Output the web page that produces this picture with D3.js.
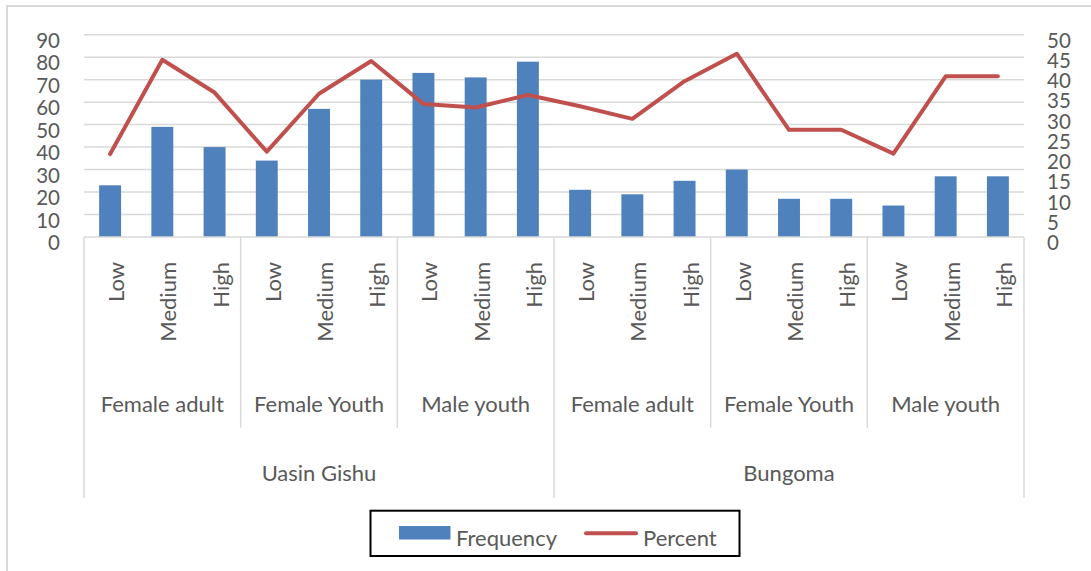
<!DOCTYPE html>
<html>
<head>
<meta charset="utf-8">
<script src="https://cdn.jsdelivr.net/npm/d3@7"></script>
<style>
  body { margin: 0; background: #fff; }
  text { font-family: Lato, "Open Sans", sans-serif; fill: #595959; }
</style>
</head>
<body>
<svg class="chart" width="1091" height="571"></svg>
<script>
var regions = ["Uasin Gishu", "Bungoma"];
var groups = ["Female adult", "Female Youth", "Male youth"];
var levels = ["Low", "Medium", "High"];

// frequency bars, left axis
var frequency = [23, 49, 40, 34, 57, 70, 73, 71, 78,
                 21, 19, 25, 30, 17, 17, 14, 27, 27];
// percent line, right axis
var percent = [20.5, 43.8, 35.7, 21.1, 35.4, 43.5, 32.9, 32.0, 35.1,
               32.3, 29.2, 38.5, 45.3, 26.5, 26.5, 20.6, 39.7, 39.7];

var leftTicks = [0, 10, 20, 30, 40, 50, 60, 70, 80, 90];
var rightTicks = [0, 5, 10, 15, 20, 25, 30, 35, 40, 45, 50];

var plot = { left: 84, right: 1024, top: 34.7, bottom: 237 };
var colors = { bar: "#4f81bd", line: "#c0504d", grid: "#d9d9d9" };

var svg = d3.select("svg.chart");

// every level of every group of every region
var cats = [];
regions.forEach(function (r) {
    groups.forEach(function (g) {
        levels.forEach(function (l) {
            cats.push({ region: r, group: g, level: l });
        });
    });
});

var x = d3.scaleBand()
          .domain(d3.range(cats.length))
          .range([plot.left, plot.right])
          .paddingInner(0.58)
          .paddingOuter(0.29);

var yL = d3.scaleLinear().domain([0, 90]).range([plot.bottom, plot.top]);
var yR = d3.scaleLinear().domain([0, 50]).range([plot.bottom, plot.top]);

function cx(i) {
    return x(i) + x.bandwidth() / 2;
}

function bandEdge(i) {
    return x(i) - x.step() * x.paddingInner() / 2;
}

// outer frame (only top and left show)
svg.append("path")
   .attr("d", "M7,1200 L7,6 L1200,6")
   .attr("fill", "none")
   .attr("stroke", colors.grid)
   .attr("stroke-width", 2);

// gridlines
svg.selectAll("line.grid")
   .data(leftTicks.slice(1))
   .enter()
   .append("line")
   .attr("class", "grid")
   .attr("x1", plot.left)
   .attr("x2", plot.right)
   .attr("y1", function (d) { return yL(d); })
   .attr("y2", function (d) { return yL(d); })
   .attr("stroke", colors.grid)
   .attr("stroke-width", 1.5);

// tick labels
svg.selectAll("text.yl")
   .data(leftTicks)
   .enter()
   .append("text")
   .attr("class", "yl")
   .attr("x", 60)
   .attr("y", function (d) { return yL(d) + 5; })
   .attr("text-anchor", "end")
   .attr("dominant-baseline", "central")
   .style("font-size", "20.5px")
   .text(function (d) { return d; });

var rStep = (yR(0) - yR(50)) / 10; // labels spread evenly over the same height
svg.selectAll("text.yr")
   .data(rightTicks)
   .enter()
   .append("text")
   .attr("class", "yr")
   .attr("x", 1047)
   .attr("y", function (d, i) { return yR(0) + 5 - i * rStep; })
   .attr("dominant-baseline", "central")
   .style("font-size", "20.5px")
   .text(function (d) { return d; });

// bars
svg.selectAll("rect.bar")
   .data(frequency)
   .enter()
   .append("rect")
   .attr("class", "bar")
   .attr("x", function (d, i) { return x(i); })
   .attr("width", x.bandwidth())
   .attr("y", function (d) { return yL(d); })
   .attr("height", function (d) { return yL(0) - yL(d); })
   .attr("fill", colors.bar);

// axis line and category separators
svg.append("line")
   .attr("x1", plot.left).attr("x2", plot.right)
   .attr("y1", plot.bottom).attr("y2", plot.bottom)
   .attr("stroke", colors.grid)
   .attr("stroke-width", 1.5);

var groupStarts = [];
var regionStarts = [];
cats.forEach(function (c, i) {
    if (i % 9 == 0) regionStarts.push(i);
    else if (i % 3 == 0) groupStarts.push(i);
});

svg.selectAll("line.gsep")
   .data(groupStarts)
   .enter()
   .append("line")
   .attr("class", "gsep")
   .attr("x1", function (d) { return bandEdge(d); })
   .attr("x2", function (d) { return bandEdge(d); })
   .attr("y1", plot.bottom)
   .attr("y2", 427.7)
   .attr("stroke", colors.grid)
   .attr("stroke-width", 1.5);

svg.selectAll("line.rsep")
   .data(regionStarts.map(function (d) { return bandEdge(d); }).concat([plot.right]))
   .enter()
   .append("line")
   .attr("class", "rsep")
   .attr("x1", function (d) { return d; })
   .attr("x2", function (d) { return d; })
   .attr("y1", plot.bottom)
   .attr("y2", 497.7)
   .attr("stroke", colors.grid)
   .attr("stroke-width", 1.5);

// percent line
var line = d3.line()
             .x(function (d, i) { return cx(i); })
             .y(function (d) { return yR(d); });

svg.append("path")
   .datum(percent)
   .attr("d", line)
   .attr("fill", "none")
   .attr("stroke", colors.line)
   .attr("stroke-width", 4)
   .attr("stroke-linejoin", "round")
   .attr("stroke-linecap", "round");

// level labels, rotated, baseline right of the bar centre
svg.selectAll("text.lvl")
   .data(cats)
   .enter()
   .append("text")
   .attr("class", "lvl")
   .attr("transform", function (d, i) {
       return "translate(" + (cx(i) + 14) + ",262) rotate(-90)";
   })
   .attr("text-anchor", "end")
   .style("font-size", "22px")
   .text(function (d) { return d.level; });

// group labels
var groupIdx = d3.range(regions.length * groups.length);
svg.selectAll("text.grp")
   .data(groupIdx)
   .enter()
   .append("text")
   .attr("class", "grp")
   .attr("x", function (d) { return (cx(d * 3) + cx(d * 3 + 2)) / 2; })
   .attr("y", 403)
   .attr("text-anchor", "middle")
   .attr("dominant-baseline", "central")
   .style("font-size", "22px")
   .text(function (d) { return groups[d % groups.length]; });

// region labels
svg.selectAll("text.reg")
   .data(regions)
   .enter()
   .append("text")
   .attr("class", "reg")
   .attr("x", function (d, i) { return (cx(i * 9) + cx(i * 9 + 8)) / 2; })
   .attr("y", 472.7)
   .attr("text-anchor", "middle")
   .attr("dominant-baseline", "central")
   .style("font-size", "22px")
   .text(function (d) { return d; });

// legend
var legend = svg.append("g");
legend.append("rect")
      .attr("x", 370.5).attr("y", 510.7)
      .attr("width", 369).attr("height", 45.3)
      .attr("fill", "#fff")
      .attr("stroke", "#000")
      .attr("stroke-width", 2);
legend.append("rect")
      .attr("x", 399).attr("y", 526)
      .attr("width", 51.5).attr("height", 13.5)
      .attr("fill", colors.bar);
legend.append("text")
      .attr("x", 456).attr("y", 546)
      .style("font-size", "22px")
      .text("Frequency");
legend.append("line")
      .attr("x1", 586).attr("x2", 636)
      .attr("y1", 533.3).attr("y2", 533.3)
      .attr("stroke", colors.line)
      .attr("stroke-width", 4)
      .attr("stroke-linecap", "round");
legend.append("text")
      .attr("x", 643).attr("y", 546)
      .style("font-size", "22px")
      .text("Percent");
</script>
</body>
</html>
